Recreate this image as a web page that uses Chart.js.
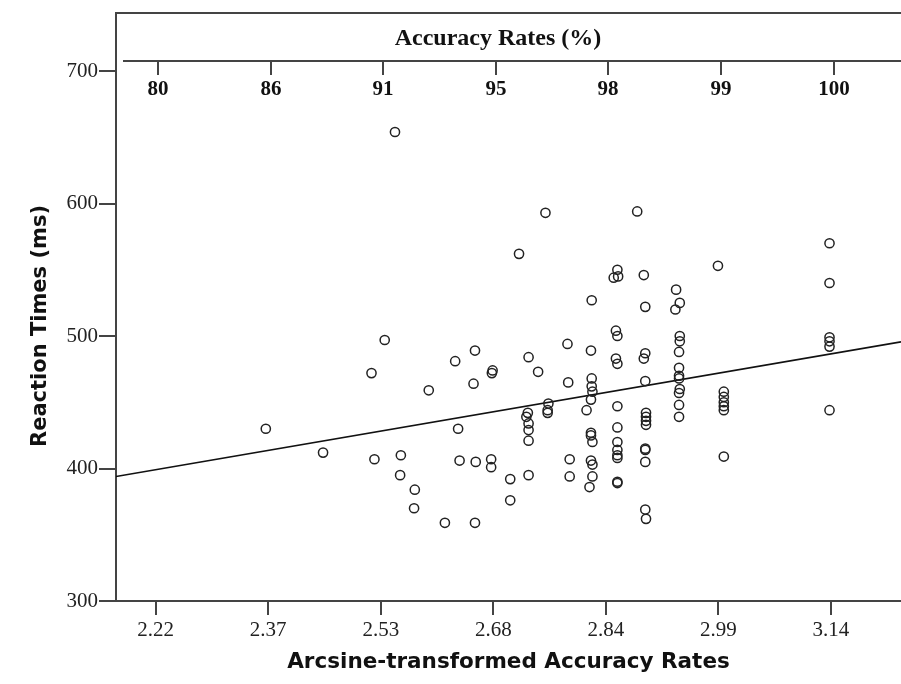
<!DOCTYPE html>
<html>
<head>
<meta charset="utf-8">
<script src="https://cdn.jsdelivr.net/npm/chart.js@4.4.1/dist/chart.umd.min.js"></script>
<style>
  html, body { margin: 0; padding: 0; background: #fff; }
  #wrap { width: 901px; height: 684px; }
</style>
</head>
<body>
<div id="wrap"><canvas id="rtChart" width="901" height="684"></canvas></div>
<script>
// arcsine-transformed accuracy (x) vs reaction time in ms (y)
const arcsineAcc = [
    2.546, 2.532, 2.514, 2.592, 2.370, 2.448, 2.518, 2.554, 2.553, 2.573,
    2.572, 2.614, 2.751, 2.876, 2.715, 2.849, 2.844, 2.850, 2.885, 2.814,
    2.847, 2.849, 2.781, 2.813, 2.655, 2.628, 2.728, 2.678, 2.679, 2.741,
    2.847, 2.849, 2.653, 2.782, 2.814, 2.814, 2.815, 2.813, 2.755, 2.754,
    2.754, 2.807, 2.849, 2.727, 2.725, 2.728, 2.728, 2.728, 2.632, 2.813,
    2.813, 2.815, 2.849, 2.849, 2.849, 2.849, 2.849, 2.634, 2.656, 2.677,
    2.677, 2.784, 2.813, 2.815, 2.703, 2.728, 2.784, 2.815, 2.811, 2.849,
    2.849, 2.703, 2.655, 2.887, 2.887, 2.885, 2.887, 2.888, 2.888, 2.888,
    2.888, 2.887, 2.887, 2.887, 2.887, 2.888, 2.929, 2.934, 2.928, 2.934,
    2.934, 2.933, 2.933, 2.933, 2.933, 2.934, 2.933, 2.933, 2.933, 2.986,
    2.994, 2.994, 2.994, 2.994, 2.994, 2.994, 3.138, 3.138, 3.138, 3.138,
    3.138, 3.138
];
const reactionMs = [
    654, 497, 472, 459, 430, 412, 407, 410, 395, 384,
    370, 359, 593, 594, 562, 550, 544, 545, 546, 527,
    504, 500, 494, 489, 489, 481, 484, 472, 474, 473,
    483, 479, 464, 465, 468, 462, 458, 452, 449, 444,
    442, 444, 447, 442, 439, 434, 429, 421, 430, 427,
    425, 420, 431, 420, 414, 410, 408, 406, 405, 407,
    401, 407, 406, 403, 392, 395, 394, 394, 386, 390,
    389, 376, 359, 522, 487, 483, 466, 442, 439, 436,
    433, 415, 414, 405, 369, 362, 535, 525, 520, 500,
    496, 488, 476, 470, 468, 460, 457, 448, 439, 553,
    458, 454, 450, 447, 444, 409, 570, 540, 499, 496,
    492, 444
];

// fitted line, end points read at the plot edges
const fitX = [2.1659, 3.2354];
const fitY = [394, 495.6];

const xTickValues = [2.22, 2.3733, 2.5267, 2.68, 2.8333, 2.9867, 3.14];
const xTickLabels = ['2.22', '2.37', '2.53', '2.68', '2.84', '2.99', '3.14'];
const yTickValues = [300, 400, 500, 600, 700];
const pctTickValues = [2.2235, 2.377, 2.5302, 2.6835, 2.8368, 2.9902, 3.1435];
const pctTickLabels = ['80', '86', '91', '95', '98', '99', '100'];

const points = arcsineAcc.map((x, i) => ({ x: x, y: reactionMs[i] }));
const fitPoints = fitX.map((x, i) => ({ x: x, y: fitY[i] }));

const AXIS_COLOR = '#444';
const SERIF = '"Liberation Serif", "Times New Roman", serif';
const SANS = '"DejaVu Sans", Verdana, sans-serif';

// top frame line plus the secondary "Accuracy Rates (%)" axis, and the y title
const extrasPlugin = {
    id: 'extras',
    afterDraw(chart) {
        const { ctx, chartArea, scales } = chart;
        const xs = scales.x;
        ctx.save();
        ctx.strokeStyle = AXIS_COLOR;
        ctx.lineWidth = 2;

        ctx.beginPath();
        ctx.moveTo(chartArea.left - 1, chartArea.top);
        ctx.lineTo(chartArea.right, chartArea.top);
        ctx.stroke();

        const lineY = chartArea.top + 48;
        ctx.beginPath();
        ctx.moveTo(chartArea.left + 7, lineY);
        ctx.lineTo(chartArea.right, lineY);
        ctx.stroke();

        ctx.fillStyle = '#111';
        ctx.textAlign = 'center';
        ctx.textBaseline = 'middle';
        ctx.font = 'bold 21px ' + SERIF;
        pctTickValues.forEach((v, i) => {
            const px = Math.round(xs.getPixelForValue(v));
            ctx.beginPath();
            ctx.moveTo(px, lineY);
            ctx.lineTo(px, lineY + 14);
            ctx.stroke();
            ctx.fillText(pctTickLabels[i], px, lineY + 29);
        });

        ctx.font = 'bold 24px ' + SERIF;
        ctx.fillText('Accuracy Rates (%)', 498, chartArea.top + 26);

        // y axis title
        ctx.translate(41, 326);
        ctx.rotate(-Math.PI / 2);
        ctx.font = 'bold 21px ' + SANS;
        ctx.fillText('Reaction Times (ms)', 0, 0);
        ctx.restore();
    }
};

const ctx = document.getElementById('rtChart').getContext('2d');
const rtChart = new Chart(ctx, {
    type: 'scatter',
    data: {
        datasets: [{
            label: 'Participants',
            data: points,
            pointStyle: 'circle',
            pointRadius: 4.6,
            pointBorderWidth: 1.5,
            borderColor: '#222',
            backgroundColor: 'rgba(0,0,0,0)',
            showLine: false
        }, {
            type: 'line',
            label: 'Fit',
            data: fitPoints,
            borderColor: '#111',
            borderWidth: 1.6,
            pointRadius: 0,
            fill: false
        }]
    },
    options: {
        responsive: false,
        animation: false,
        layout: { autoPadding: false, padding: { top: 13, right: 0, bottom: 0, left: 0 } },
        plugins: {
            legend: { display: false },
            tooltip: { enabled: false }
        },
        scales: {
            x: {
                type: 'linear',
                min: 2.1659,
                max: 3.2354,
                afterBuildTicks: (s) => { s.ticks = xTickValues.map(v => ({ value: v })); },
                afterFit: (s) => {
                    s.height = 83;
                    s.paddingLeft = 0;
                    s.paddingRight = 0;
                },
                ticks: {
                    autoSkip: false,
                    maxRotation: 0,
                    padding: 3,
                    color: '#222',
                    font: { family: SERIF, size: 21 },
                    callback: (val, i) => xTickLabels[i]
                },
                grid: { drawOnChartArea: false, tickLength: 14, color: AXIS_COLOR, lineWidth: 2 },
                border: { color: AXIS_COLOR, width: 2 },
                title: {
                    display: true,
                    text: 'Arcsine-transformed Accuracy Rates',
                    color: '#111',
                    font: { family: SANS, size: 21.5, weight: 'bold' },
                    padding: { top: 2, bottom: 9 }
                }
            },
            y: {
                min: 300,
                max: 743.8,
                afterBuildTicks: (s) => { s.ticks = yTickValues.map(v => ({ value: v })); },
                afterFit: (s) => {
                    s.width = 116;
                    s.paddingTop = 0;
                    s.paddingBottom = 0;
                },
                ticks: {
                    padding: 1,
                    color: '#222',
                    font: { family: SERIF, size: 21 }
                },
                grid: { drawOnChartArea: false, tickLength: 17, color: AXIS_COLOR, lineWidth: 2 },
                border: { color: AXIS_COLOR, width: 2 }
            }
        }
    },
    plugins: [extrasPlugin]
});
</script>
</body>
</html>
